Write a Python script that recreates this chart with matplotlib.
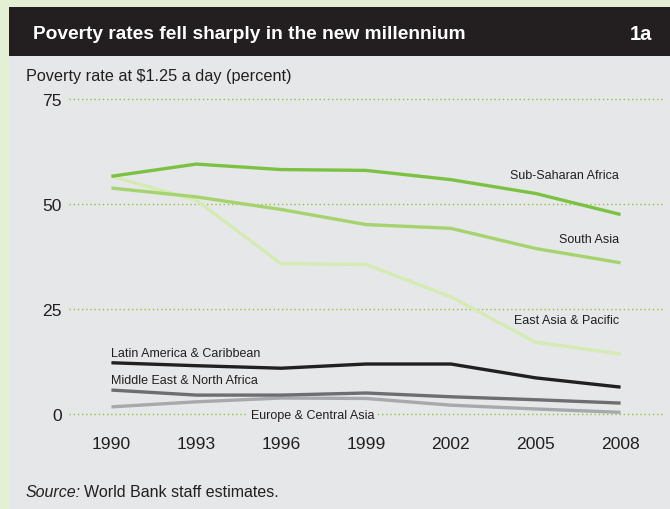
import matplotlib
matplotlib.use('Agg')
import matplotlib.pyplot as plt
from matplotlib.patches import Rectangle

# data (percent of population under $1.25 a day)
years = [1990, 1993, 1996, 1999, 2002, 2005, 2008]
sub_saharan = [56.6, 59.5, 58.2, 58.0, 55.8, 52.5, 47.5]
south_asia = [53.8, 51.7, 48.7, 45.1, 44.2, 39.4, 36.0]
east_asia = [56.6, 50.9, 35.8, 35.6, 27.9, 17.1, 14.3]
latin_am = [12.2, 11.5, 10.9, 11.9, 11.9, 8.6, 6.4]
mena = [5.7, 4.5, 4.5, 5.0, 4.1, 3.4, 2.6]
europe = [1.7, 2.9, 3.8, 3.7, 2.1, 1.2, 0.4]
y_ticks = [0, 25, 50, 75]

W, H = 670, 510
fig = plt.figure(figsize=(W / 100, H / 100), dpi=100)
fig.patch.set_facecolor('#e3f0d4')

def px_rect(x0, y0, x1, y1, color):
    # rectangle in pixel coords (top-left origin)
    fig.patches.append(Rectangle((x0 / W, 1 - y1 / H), (x1 - x0) / W, (y1 - y0) / H,
                                 transform=fig.transFigure, facecolor=color,
                                 edgecolor='none', zorder=-5))

px_rect(9, 57, W, H, '#e6e7e8')
px_rect(9, 8, W, 57, '#231f20')

body = 'Liberation Sans'
fig.text(33 / W, 1 - 34.5 / H, 'Poverty rates fell sharply in the new millennium',
         color='white', fontsize=13.8, fontweight='bold', family=body,
         va='center', ha='left')
fig.text(652 / W, 1 - 34.5 / H, '1a', color='white', fontsize=14.5,
         fontweight='bold', family=body, va='center', ha='right')

fig.text(26 / W, 1 - 76.5 / H, 'Poverty rate at $1.25 a day (percent)',
         fontsize=11.7, family=body, color='#231f20', va='center')

# axes placed so that gridlines span x 69..663 and y 0 at px 415, 75 at px 100
ax_left, ax_right = 69, 663
ax_top, ax_bot = 95, 420
ax = fig.add_axes([ax_left / W, 1 - ax_bot / H, (ax_right - ax_left) / W, (ax_bot - ax_top) / H])
ax.set_zorder(2)
ax.set_facecolor('none')
ppu = (415 - 100) / 75
ax.set_ylim(-(ax_bot - 415) / ppu, 75 + (100 - ax_top) / ppu)
ax.set_xlim(1988.5, 2009.5)
for s in ax.spines.values():
    s.set_visible(False)

for t in y_ticks:
    ax.axhline(t, color='#8dc63f', lw=1.0, ls=(0, (1, 2)), zorder=1)

ax.set_yticks(y_ticks)
ax.set_xticks(years)
ax.tick_params(axis='both', length=0, labelsize=12.6, colors='#231f20')
ax.tick_params(axis='y', pad=5)
ax.tick_params(axis='x', pad=12)
for lab in ax.get_xticklabels() + ax.get_yticklabels():
    lab.set_family(body)

lw = 2.4
ax.plot(years, europe, color='#a7a9ac', lw=lw, zorder=3, solid_capstyle='butt')
ax.plot(years, mena, color='#6d6e71', lw=lw, zorder=3, solid_capstyle='butt')
ax.plot(years, latin_am, color='#231f20', lw=lw, zorder=3, solid_capstyle='butt')
ax.plot(years, east_asia, color='#d5ebb3', lw=lw, zorder=3, solid_capstyle='butt')
ax.plot(years, south_asia, color='#a5d46f', lw=lw, zorder=4, solid_capstyle='butt')
ax.plot(years, sub_saharan, color='#7cc242', lw=lw, zorder=5, solid_capstyle='butt')

lab_kw = dict(fontsize=9, family=body, color='#231f20', va='center')
ax.text(2007.95, 56.9, 'Sub-Saharan Africa', ha='right', **lab_kw)
ax.text(2007.95, 41.6, 'South Asia', ha='right', **lab_kw)
ax.text(2007.95, 22.4, 'East Asia & Pacific', ha='right', **lab_kw)
ax.text(1990, 14.6, 'Latin America & Caribbean', ha='left', **lab_kw)
ax.text(1990, 8.2, 'Middle East & North Africa', ha='left', **lab_kw)
ax.text(1997.1, -0.2, 'Europe & Central Asia', ha='center', zorder=6,
        bbox=dict(facecolor='#e6e7e8', edgecolor='none', pad=1.5), **lab_kw)

# source note: italic "Source:" followed by plain text
src = fig.text(26 / W, 1 - 493 / H, 'Source:', fontsize=11.5, family=body,
               style='italic', color='#231f20', va='center')
fig.canvas.draw()
bb = src.get_window_extent()
fig.text(bb.x1 / W + 3 / W, 1 - 493 / H, 'World Bank staff estimates.', fontsize=11.5,
         family=body, color='#231f20', va='center')

fig.savefig('out.png', dpi=100, facecolor=fig.get_facecolor())
